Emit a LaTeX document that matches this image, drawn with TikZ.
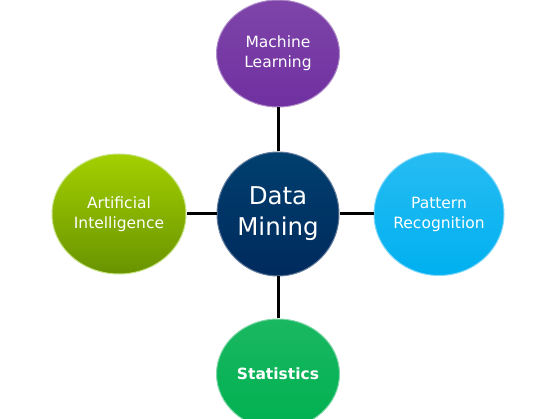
\documentclass[tikz,border=0pt]{standalone}
\usepackage{fontspec}
\setmainfont{DejaVu Sans}
\definecolor{mlpurple}{RGB}{112,48,160}
\definecolor{dmnavy}{RGB}{0,42,94}
\definecolor{aigreen}{RGB}{140,196,0}
\definecolor{prcyan}{RGB}{0,176,240}
\definecolor{stgreen}{RGB}{0,176,80}
\usetikzlibrary{positioning, shapes.geometric}

\begin{document}
\begin{tikzpicture}[
        x=1pt, y=-1pt,
        topic/.style={ellipse, inner sep=0pt, align=center, text=white, line width=1pt, font=\fontsize{15.5}{20}\selectfont},
        hub/.style={topic, minimum width=122pt, minimum height=124pt, font=\fontsize{24.5}{31}\selectfont},
        link/.style={line width=3pt, black}
    ]
        \useasboundingbox (0,0) rectangle (559,419);

        % Centre
        \node[hub, draw=dmnavy!60!white, top color=dmnavy!90!cyan, bottom color=dmnavy] (DM) at (278,214) {Data\\Mining};

        % Surrounding fields
        \node[topic, above=44pt of DM, minimum width=123pt, minimum height=107pt, draw=mlpurple!55!white, top color=mlpurple!90!white, bottom color=mlpurple] (ML) {Machine\\Learning};
        \node[topic, left=30pt of DM, minimum width=134pt, minimum height=120pt, draw=aigreen!50!white, top color=aigreen!80!yellow, bottom color=aigreen!75!black] (AI) {Artificial\\Intelligence};
        \node[topic, right=34pt of DM, minimum width=130pt, minimum height=123pt, draw=prcyan!50!white, top color=prcyan!85!white, bottom color=prcyan] (PR) {Pattern\\Recognition};
        \node[topic, below=42pt of DM, minimum width=123pt, minimum height=110pt, draw=stgreen!50!white, top color=stgreen!90!white, bottom color=stgreen, font=\fontsize{15.5}{20}\selectfont\bfseries] (ST) {Statistics};

        % Links
        \draw[link] (DM) -- (ML);
        \draw[link] (DM) -- (AI);
        \draw[link] (DM) -- (PR);
        \draw[link] (DM) -- (ST);
\end{tikzpicture}
\end{document}
